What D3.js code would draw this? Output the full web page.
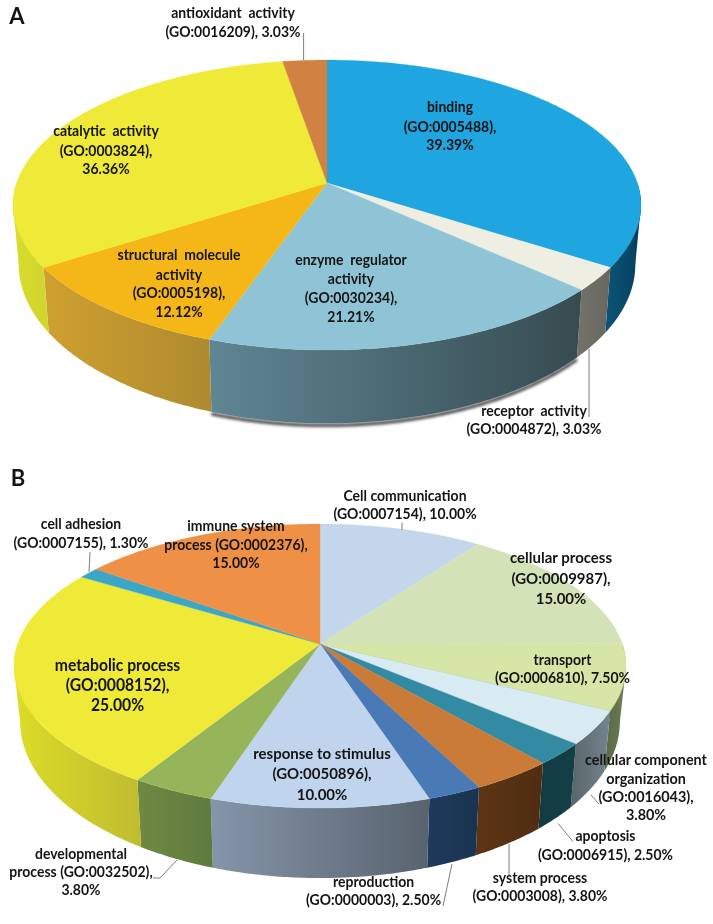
<!DOCTYPE html>
<html><head><meta charset="utf-8">
<script src="https://d3js.org/d3.v7.min.js"></script>
<style>html,body{margin:0;background:#fff}svg{display:block}text{font-family:Lato,"Open Sans",sans-serif;font-weight:700;fill:#141414;text-anchor:middle;dominant-baseline:middle}</style>
</head><body><script>
// ---------- data (panel A)
const categoriesA = ["binding","receptor activity","enzyme regulator activity","structural molecule activity","catalytic activity","antioxidant activity"];
const valuesA = [39.39,3.03,21.21,12.12,36.36,3.03];
const topColorsA = ["#1fa5e0","#eeeee2","#8fc4d6","#f5b717","#efe937","#d18141"];
const sideFromA = ["#0c5478","#757269","#5f8694","#cfa02f","#d8dc2c","#b06a30"];
const sideToA = ["#053f5e","#676761","#364b50","#ae8a30","#d2d430","#b06a30"];
const labelsA = [
 ["binding","(GO:0005488),","39.39%"],
 ["receptor activity","(GO:0004872), 3.03%"],
 ["enzyme regulator","activity","(GO:0030234),","21.21%"],
 ["structural molecule","activity","(GO:0005198),","12.12%"],
 ["catalytic activity","(GO:0003824),","36.36%"],
 ["antioxidant activity","(GO:0016209), 3.03%"]];
// ---------- data (panel B)
const categoriesB = ["Cell communication","cellular process","transport","cellular component organization","apoptosis","system process","reproduction","response to stimulus","developmental process","metabolic process","cell adhesion","immune system process"];
const valuesB = [10,15,7.5,3.8,2.5,3.8,2.5,10,3.8,25,1.3,15];
const topColorsB = ["#c3d6ec","#d4e2b8","#d6e6a6","#d8ebf3","#338aa3","#c97b37","#4a7ab6","#c0d4ed","#96b45a","#efe937","#3ba6c8","#ee9147"];
const sideFromB = ["#8a9aa8","#6b7a50","#5b6a48","#586669","#123c42","#5e3513","#1e3a5c","#8595a9","#6f8a43","#dcdc28","#2a7a90","#b06a30"];
const sideToB = ["#8a9aa8","#6b7a50","#6b7a50","#74848f","#143f47","#4f2d13","#1a3350","#59636f","#5f7a3e","#c0bc30","#2a7a90","#b06a30"];
const labelsB = [
 ["Cell communication","(GO:0007154), 10.00%"],
 ["cellular process","(GO:0009987),","15.00%"],
 ["transport","(GO:0006810), 7.50%"],
 ["cellular component","organization","(GO:0016043),","3.80%"],
 ["apoptosis","(GO:0006915), 2.50%"],
 ["system process","(GO:0003008), 3.80%"],
 ["reproduction","(GO:0000003), 2.50%"],
 ["response to stimulus","(GO:0050896),","10.00%"],
 ["developmental","process (GO:0032502),","3.80%"],
 ["metabolic process","(GO:0008152),","25.00%"],
 ["cell adhesion","(GO:0007155), 1.30%"],
 ["immune system","process (GO:0002376),","15.00%"]];

// ---------- layout
const layoutA = {id:"a",cx:327,apex:183,rx:314,ry:145,p:0.152,bottomScale:0.982,bottomApex:240,bottomS:155.5,wordGap:3.5,
 labels:[[450,[108.5,128,146],14],[534,[412,430],14],[351,[261.5,280,299,318],14],[179,[256.5,275.7,294,313],14],[106,[132.5,152,170],14],[233,[14,33],14]],
 leaders:[[[589,349],[589,417]],[[303.6,33],[303.6,60]]]};
const layoutB = {id:"b",cx:320,apex:644,rx:306,ry:142,p:0.155,bottomScale:0.98,bottomApex:697,bottomS:153,wordGap:0,
 labels:[[405,[497,515],14],[561,[559,579.5,599.5],15],[562.5,[660.7,679],14],[646,[761,780,798,816],14.4],[605.5,[837.6,856],14],[540,[879,897.5],14],[373.6,[882.7,901],14],[322,[755,775,795.5],15],[81,[855,873.5,891.6],14],[117.5,[666.6,687,706.7],15.7],[81,[525,544],14],[236,[527.4,546,564],14]],
 leaders:[[[402,522.5],[402,530]],[[90,552],[89,572]],[[591,795],[599,804]],[[558,823.5],[573,841.6]],[[509,844],[509,876]],[[452,864],[443,906]],[[177,860],[160,878],[153,878]]]};

const width=713,height=924;
const svgRoot=d3.select("body").append("svg").attr("width",width).attr("height",height);
const defs=svgRoot.append("defs");
defs.append("filter").attr("id","blur").attr("x","-10%").attr("y","-50%").attr("width","120%").attr("height","200%")
  .append("feGaussianBlur").attr("stdDeviation",1.6);
defs.append("filter").attr("id","soft").attr("filterUnits","userSpaceOnUse").attr("x",0).attr("y",0).attr("width",width).attr("height",height)
  .attr("color-interpolation-filters","sRGB").append("feGaussianBlur").attr("stdDeviation",0.4);
const svg=svgRoot.append("g").attr("filter","url(#soft)");

function drawPie(L,values,topColors,from,to,labels,shadowIdx){
  const arcs=d3.pie().sort(null).value(d=>d)(values);
  const p=L.p, k=1-p*p;
  const sy=L.ry*k, sx=L.rx*Math.sqrt(k);
  const xTop=d3.scaleLinear().domain([-1,1]).range([L.cx-sx,L.cx+sx]);
  const yTop=d3.scaleLinear().domain([-1,1]).range([L.apex-sy,L.apex+sy]);
  const xBot=d3.scaleLinear().domain([-1,1]).range([L.cx-sx*L.bottomScale,L.cx+sx*L.bottomScale]);
  const yBot=d3.scaleLinear().domain([-1,1]).range([L.bottomApex-L.bottomS,L.bottomApex+L.bottomS]);
  const proj=(a,xs,ys)=>{const u=Math.sin(a),v=-Math.cos(a),w=1-p*v;return [xs(u/w),ys(v/w)];};
  const line=d3.line();
  const sample=(a0,a1)=>{const n=Math.max(2,Math.ceil(Math.abs(a1-a0)/0.01));return d3.range(n+1).map(i=>a0+(a1-a0)*i/n);};
  const lo=Math.PI*0.5, hi=Math.PI*1.5;

  const g=svg.append("g");
  if(shadowIdx!=null){
    const d=arcs[shadowIdx];
    g.append("path").attr("d",line(sample(d.startAngle,d.endAngle).map(a=>{const q=proj(a,xBot,yBot);return [q[0],q[1]+2];})))
      .attr("fill","none").attr("stroke","#000").attr("stroke-opacity",0.8).attr("stroke-width",3).attr("filter","url(#blur)");
  }
  // silhouette pieces joining the widest points of the top and bottom rims
  [[lo,Math.PI,d3.greatest,to],[Math.PI,hi+0.01,d3.least,from]].forEach(([a0,a1,pick,cols])=>{
    const as=sample(a0,a1);
    const at=pick(as,a=>proj(a,xTop,yTop)[0]), ab=pick(as,a=>proj(a,xBot,yBot)[0]);
    const idx=arcs.findIndex(d=>d.startAngle<=ab&&ab<d.endAngle);
    g.append("path").attr("d",line([proj(at,xTop,yTop),proj(ab,xBot,yBot),[L.cx,L.apex]])+"Z").attr("fill",cols[idx]);
  });
  const visible=arcs.map((d,i)=>({i,a0:Math.max(d.startAngle,lo),a1:Math.min(d.endAngle,hi)})).filter(d=>d.a1>d.a0);
  visible.forEach(s=>{
    const id=`side-${L.id}-${s.i}`;
    const lg=defs.append("linearGradient").attr("id",id);
    lg.append("stop").attr("offset",0).attr("stop-color",from[s.i]);
    lg.append("stop").attr("offset",1).attr("stop-color",to[s.i]);
    const as=sample(s.a0,s.a1);
    const pts=as.map(a=>proj(a,xTop,yTop)).concat(as.slice().reverse().map(a=>proj(a,xBot,yBot)));
    g.append("path").attr("d",line(pts)+"Z").attr("fill",`url(#${id})`);
  });
  svg.append("g").selectAll("path").data(arcs).join("path")
    .attr("d",d=>line([[L.cx,L.apex]].concat(sample(d.startAngle,d.endAngle).map(a=>proj(a,xTop,yTop))))+"Z")
    .attr("fill",(d,i)=>topColors[i]).attr("stroke",(d,i)=>topColors[i]).attr("stroke-width",0.3);
  svg.append("g").selectAll("path").data(L.leaders).join("path")
    .attr("d",d=>line(d)).attr("fill","none").attr("stroke","#6e6e6e").attr("stroke-width",0.9);
  labels.forEach((lines,i)=>{
    const [x,ys,size]=L.labels[i];
    svg.append("g").selectAll("text").data(lines).join("text")
      .attr("transform",(d,j)=>`translate(${x},${ys[j]}) scale(${size/(size+1)},1)`)
      .attr("font-size",size+1)
      .attr("word-spacing",d=>/GO|%/.test(d)?0:L.wordGap)
      .text(d=>d);
  });
}
drawPie(layoutA,valuesA,topColorsA,sideFromA,sideToA,labelsA,2);
drawPie(layoutB,valuesB,topColorsB,sideFromB,sideToB,labelsB,null);
svg.append("text").attr("x",17).attr("y",18).attr("font-size",22).text("A");
svg.append("text").attr("x",18).attr("y",480).attr("font-size",22).text("B");
</script></body></html>
